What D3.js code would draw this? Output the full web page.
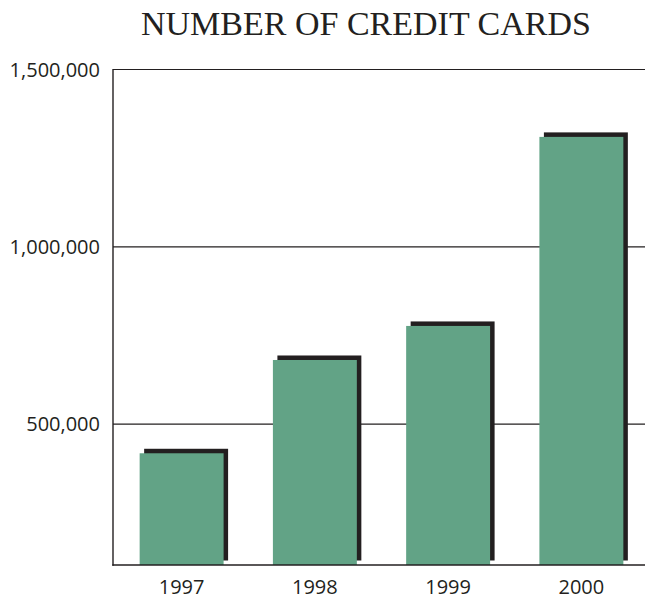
<!DOCTYPE html>
<html>
<head>
<meta charset="utf-8">
<script src="https://cdn.jsdelivr.net/npm/d3@7"></script>
<style>
  html, body { margin: 0; padding: 0; background: #fff; }
  svg { display: block; }
</style>
</head>
<body>
<svg id="chart" width="645" height="599"></svg>
<script>
const years = ['1997', '1998', '1999', '2000']
const cards = [418000, 681000, 777000, 1310000]
const tickValues = [500000, 1000000, 1500000]
const tickLabels = ['500,000', '1,000,000', '1,500,000']

const width = 645, height = 599
const margin = { left: 113, right: 0, top: 69.5, bottom: 34 }
const shadowOffset = 4.5
const baseValue = 103000

const svg = d3.select('#chart')

const x = d3.scaleBand()
    .domain(years)
    .range([margin.left, 650])
    .paddingInner(0.37)
    .paddingOuter(0.2)

const y = d3.scaleLinear()
    .domain([baseValue, 1500000])
    .range([height - margin.bottom, margin.top])

// title
svg.append('text')
    .attr('x', 366)
    .attr('y', 35)
    .attr('text-anchor', 'middle')
    .style('font-family', '"Liberation Serif", "Times New Roman", serif')
    .style('font-size', '34px')
    .attr('fill', '#231f20')
    .text('NUMBER OF CREDIT CARDS')

// gridlines
svg.append('g')
    .selectAll('line')
    .data(tickValues)
    .join('line')
    .attr('x1', margin.left)
    .attr('x2', width)
    .attr('y1', d => y(d))
    .attr('y2', d => y(d))
    .attr('stroke', '#231f20')
    .attr('stroke-width', 1.2)

// y labels
svg.append('g')
    .selectAll('text')
    .data(tickValues)
    .join('text')
    .attr('x', margin.left - 13)
    .attr('y', d => y(d))
    .attr('dy', '0.36em')
    .attr('text-anchor', 'end')
    .style('font-family', '"Open Sans", "Noto Sans", sans-serif')
    .style('font-size', '20px')
    .attr('fill', '#231f20')
    .text((d, i) => tickLabels[i])

// bars: shadow first, then green face
const bars = svg.append('g')
    .selectAll('g')
    .data(years.map((yr, i) => ({ year: yr, value: cards[i] })))
    .join('g')

bars.append('rect')
    .attr('x', d => x(d.year) + shadowOffset)
    .attr('y', d => y(d.value) - shadowOffset)
    .attr('width', x.bandwidth())
    .attr('height', d => y(baseValue) - y(d.value))
    .attr('fill', '#231f20')

bars.append('rect')
    .attr('x', d => x(d.year))
    .attr('y', d => y(d.value))
    .attr('width', x.bandwidth())
    .attr('height', d => y(baseValue) - y(d.value))
    .attr('fill', '#62a386')

// axis lines
svg.append('line')
    .attr('x1', margin.left).attr('x2', margin.left)
    .attr('y1', margin.top - 0.6).attr('y2', y(baseValue) + 0.8)
    .attr('stroke', '#231f20')
    .attr('stroke-width', 1.4)

svg.append('line')
    .attr('x1', margin.left - 0.7).attr('x2', width)
    .attr('y1', y(baseValue)).attr('y2', y(baseValue))
    .attr('stroke', '#231f20')
    .attr('stroke-width', 1.7)

// x labels
svg.append('g')
    .selectAll('text')
    .data(years)
    .join('text')
    .attr('x', d => x(d) + x.bandwidth() / 2)
    .attr('y', 594)
    .attr('text-anchor', 'middle')
    .style('font-family', '"Open Sans", "Noto Sans", sans-serif')
    .style('font-size', '20px')
    .attr('fill', '#231f20')
    .text(d => d)
</script>
</body>
</html>
